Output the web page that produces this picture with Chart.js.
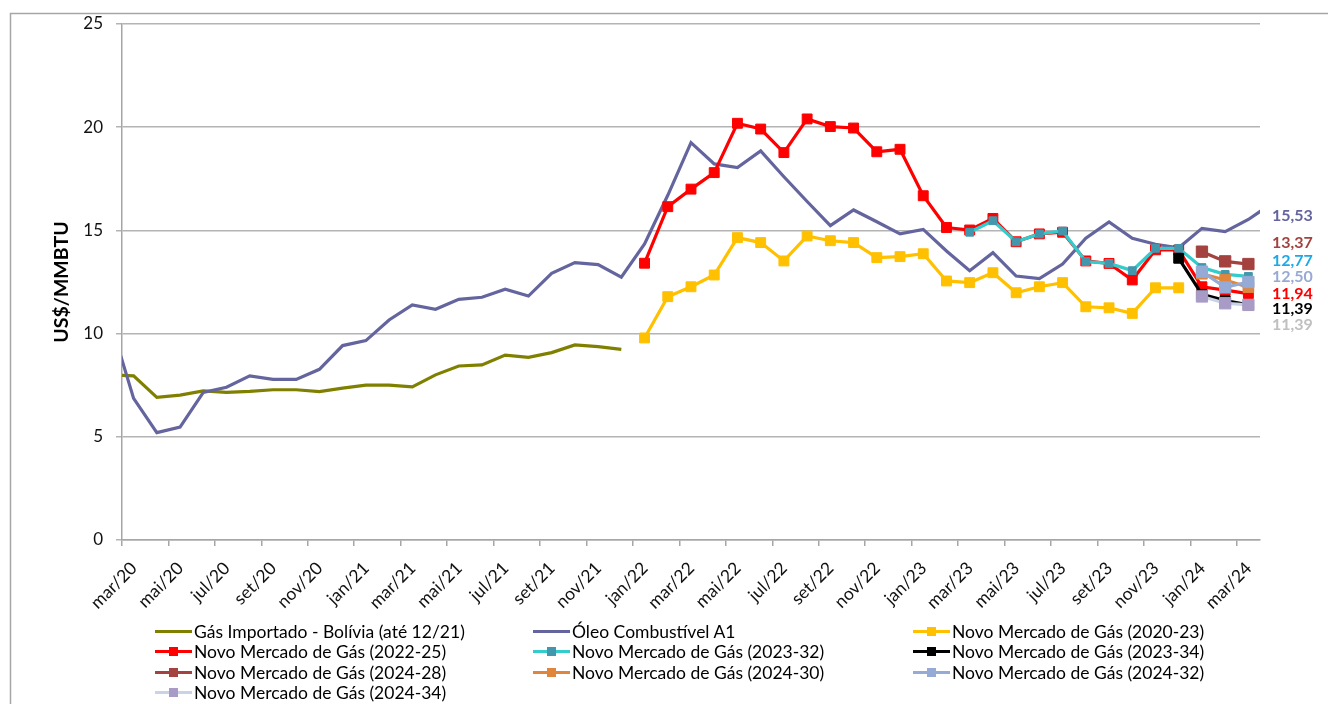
<!DOCTYPE html>
<html>
<head>
<meta charset="utf-8">
<title>Preço do gás natural x óleo combustível</title>
<script src="https://cdn.jsdelivr.net/npm/chart.js@4.4.1/dist/chart.umd.min.js"></script>
<style>
  body { margin: 0; background: #fff; }
  #wrap { position: relative; width: 1328px; height: 704px; }
  #legend { position: absolute; left: 0; top: 0; font-family: Lato, sans-serif; font-size: 17.5px; }
  .item { position: absolute; display: flex; align-items: center; height: 20px; white-space: nowrap; color: #000; }
  .sym { position: relative; width: 37px; height: 20px; margin-right: 2px; }
  .sym .ln { position: absolute; left: 0; right: 0; top: 8.5px; height: 3px; }
  .sym .mk { position: absolute; left: 14px; top: 5.5px; width: 9px; height: 9px; }
</style>
</head>
<body>
<div id="wrap">
  <canvas id="chart" width="1328" height="704"></canvas>
  <div id="legend"></div>
</div>
<script>
// months (one point per month, plotted mid-month)
const months = [
  'fev/20', 'mar/20', 'abr/20', 'mai/20', 'jun/20', 'jul/20', 'ago/20', 'set/20', 'out/20', 'nov/20', 'dez/20',
  'jan/21', 'fev/21', 'mar/21', 'abr/21', 'mai/21', 'jun/21', 'jul/21', 'ago/21', 'set/21', 'out/21', 'nov/21', 'dez/21',
  'jan/22', 'fev/22', 'mar/22', 'abr/22', 'mai/22', 'jun/22', 'jul/22', 'ago/22', 'set/22', 'out/22', 'nov/22', 'dez/22',
  'jan/23', 'fev/23', 'mar/23', 'abr/23', 'mai/23', 'jun/23', 'jul/23', 'ago/23', 'set/23', 'out/23', 'nov/23', 'dez/23',
  'jan/24', 'fev/24', 'mar/24', 'abr/24'
];

const tickLabels = [
  'mar/20', 'mai/20', 'jul/20', 'set/20', 'nov/20',
  'jan/21', 'mar/21', 'mai/21', 'jul/21', 'set/21', 'nov/21',
  'jan/22', 'mar/22', 'mai/22', 'jul/22', 'set/22', 'nov/22',
  'jan/23', 'mar/23', 'mai/23', 'jul/23', 'set/23', 'nov/23',
  'jan/24', 'mar/24'
];

const gasBolivia = [8.0, 7.95, 6.91, 7.02, 7.22, 7.15, 7.2, 7.28, 7.28, 7.19, 7.36,
  7.5, 7.5, 7.42, 8.0, 8.43, 8.48, 8.96, 8.85, 9.08, 9.45, 9.37, 9.24];

const oleoA1 = [10.58, 6.86, 5.2, 5.47, 7.15, 7.4, 7.95, 7.78, 7.78, 8.27, 9.42,
  9.66, 10.66, 11.39, 11.18, 11.66, 11.76, 12.15, 11.82, 12.92, 13.44, 13.34, 12.73,
  14.34, 16.7, 19.25, 18.22, 18.04, 18.85, 17.6, 16.4, 15.23, 15.99, 15.42, 14.83,
  15.05, 14.0, 13.05, 13.92, 12.79, 12.66, 13.37, 14.62, 15.41, 14.62, 14.33, 14.16,
  15.1, 14.94, 15.53, 16.3];

const nmg2020_23 = [9.79, 11.79, 12.27, 12.84, 14.65, 14.41, 13.52, 14.73, 14.5, 14.41, 13.68, 13.73,
  13.87, 12.55, 12.47, 12.95, 11.98, 12.27, 12.47, 11.3, 11.25, 10.98, 12.22, 12.22];

const nmg2022_25 = [13.41, 16.15, 17.0, 17.8, 20.19, 19.91, 18.77, 20.4, 20.03, 19.96, 18.81, 18.93,
  16.68, 15.14, 15.02, 15.58, 14.45, 14.83, 14.91, 13.52, 13.4, 12.6, 14.06, 14.05,
  12.27, 12.11, 11.94];

const nmg2023_32 = [14.91, 15.47, 14.45, 14.83, 14.97, 13.49, 13.4, 13.05, 14.13, 14.13, 13.2, 12.87, 12.77];
const nmg2023_34 = [13.65, 11.9, 11.6, 11.39];
const nmg2024_28 = [13.97, 13.5, 13.37];
const nmg2024_30 = [12.9, 12.6, 12.25];
const nmg2024_32 = [13.0, 12.24, 12.5];
const nmg2024_34 = [11.8, 11.47, 11.39];

// month index -> x value (axis starts at the first day of mar/20)
function series(start, values) {
  const i0 = months.indexOf(start);
  return values.map((v, k) => ({ x: i0 + k - 0.5, y: v }));
}

function lineSet(label, start, values, color, opts) {
  return Object.assign({
    label: label,
    data: series(start, values),
    borderColor: color,
    backgroundColor: color,
    pointBackgroundColor: color,
    pointBorderColor: color,
    borderWidth: 3.2,
    pointStyle: 'rect',
    pointRadius: 7,
    pointBorderWidth: 1,
    tension: 0,
    clip: 0
  }, opts || {});
}

const datasets = [
  lineSet('Gás Importado - Bolívia (até 12/21)', 'fev/20', gasBolivia, '#808000', { pointRadius: 0 }),
  lineSet('Óleo Combustível A1', 'fev/20', oleoA1, '#64649f', { pointRadius: 0 }),
  lineSet('Novo Mercado de Gás (2020-23)', 'jan/22', nmg2020_23, '#ffc000'),
  lineSet('Novo Mercado de Gás (2022-25)', 'jan/22', nmg2022_25, '#ff0000'),
  lineSet('Novo Mercado de Gás (2023-32)', 'mar/23', nmg2023_32, '#33cccc',
    { pointBackgroundColor: '#4397ad', pointBorderColor: '#4397ad', pointRadius: 5.5 }),
  lineSet('Novo Mercado de Gás (2023-34)', 'dez/23', nmg2023_34, '#000000'),
  lineSet('Novo Mercado de Gás (2024-28)', 'jan/24', nmg2024_28, '#a3423f', { pointRadius: 8 }),
  lineSet('Novo Mercado de Gás (2024-30)', 'jan/24', nmg2024_30, '#e0853c', { pointRadius: 7.5 }),
  lineSet('Novo Mercado de Gás (2024-32)', 'jan/24', nmg2024_32, '#95aad4', { pointRadius: 8 }),
  lineSet('Novo Mercado de Gás (2024-34)', 'jan/24', nmg2024_34, '#cad2e8',
    { pointBackgroundColor: '#a89cc6', pointBorderColor: '#a89cc6', pointRadius: 8 })
];
// later series on top, like the spreadsheet
datasets.forEach((ds, i) => { ds.order = datasets.length - i; });

// value labels at the right end (dataset index, colour)
const endLabels = [
  [1, '#64649f'], [6, '#a3423f'], [4, '#1ea9e6'], [8, '#98aad4'],
  [3, '#ff0000'], [5, '#000000'], [9, '#c0c0c0']
];
const endLabelY = [216, 243, 261, 277, 294, 309, 325];

const extras = {
  id: 'extras',
  beforeDraw(chart) {
    const ctx = chart.ctx;
    ctx.save();
    ctx.strokeStyle = '#a6a6a6';
    ctx.lineWidth = 1.5;
    ctx.beginPath();
    ctx.moveTo(10.5, 704);
    ctx.lineTo(10.5, 13.5);
    ctx.lineTo(1328, 13.5);
    ctx.stroke();
    ctx.restore();
  },
  afterDraw(chart) {
    const ctx = chart.ctx;
    const lastIdx = months.indexOf('mar/24');
    ctx.save();
    ctx.font = 'bold 16px Lato, sans-serif';
    ctx.textAlign = 'left';
    ctx.textBaseline = 'middle';
    endLabels.forEach((e, k) => {
      const ds = chart.data.datasets[e[0]];
      const pt = ds.data.find(p => p.x === lastIdx - 0.5);
      ctx.fillStyle = e[1];
      ctx.fillText(pt.y.toFixed(2).replace('.', ','), 1272, endLabelY[k]);
    });
    ctx.restore();
  }
};

const chart = new Chart(document.getElementById('chart'), {
  type: 'line',
  data: { datasets: datasets },
  plugins: [extras],
  options: {
    responsive: false,
    animation: false,
    devicePixelRatio: 1,
    layout: { padding: { top: 24, right: 68, bottom: 74, left: 0 } },
    plugins: { legend: { display: false }, tooltip: { enabled: false } },
    scales: {
      x: {
        type: 'linear',
        min: 0,
        max: 49,
        afterFit(s) { s.height = 90; },
        grid: { drawOnChartArea: false, color: '#a6a6a6', tickLength: 6, lineWidth: 1.5 },
        border: { color: '#a6a6a6', width: 1.5 },
        ticks: {
          stepSize: 2,
          includeBounds: false,
          autoSkip: false,
          maxRotation: 45,
          minRotation: 45,
          padding: 12,
          labelOffset: 12,
          color: '#111',
          font: { family: 'Lato', size: 17.5 },
          callback: v => (v % 2 === 0 ? tickLabels[v / 2] : '')
        }
      },
      y: {
        min: 0,
        max: 25,
        afterFit(s) { s.width = 122; },
        grid: { color: '#b4b4b4', lineWidth: 1.5, tickLength: 6 },
        border: { color: '#a6a6a6', width: 1.5 },
        ticks: { stepSize: 5, padding: 13, color: '#111', font: { family: 'Lato', size: 17 } },
        title: {
          display: true,
          text: 'US$/MMBTU',
          color: '#000',
          font: { family: 'Lato', size: 19.5, weight: 'bold' },
          padding: { top: 50, bottom: 0 }
        }
      }
    }
  }
});

// legend: 3 columns, built from the chart's datasets
const legendCols = [155, 533, 913];
const legendRows = [631, 651, 672, 692];
const legendEl = document.getElementById('legend');
chart.data.datasets.forEach((ds, i) => {
  const item = document.createElement('div');
  item.className = 'item';
  item.style.left = legendCols[i % 3] + 'px';
  item.style.top = (legendRows[Math.floor(i / 3)] - 10) + 'px';
  const sym = document.createElement('span');
  sym.className = 'sym';
  const ln = document.createElement('span');
  ln.className = 'ln';
  ln.style.background = ds.borderColor;
  sym.appendChild(ln);
  if (ds.pointRadius > 0) {
    const mk = document.createElement('span');
    mk.className = 'mk';
    mk.style.background = ds.pointBackgroundColor;
    sym.appendChild(mk);
  }
  item.appendChild(sym);
  item.appendChild(document.createTextNode(ds.label));
  legendEl.appendChild(item);
});
</script>
</body>
</html>
